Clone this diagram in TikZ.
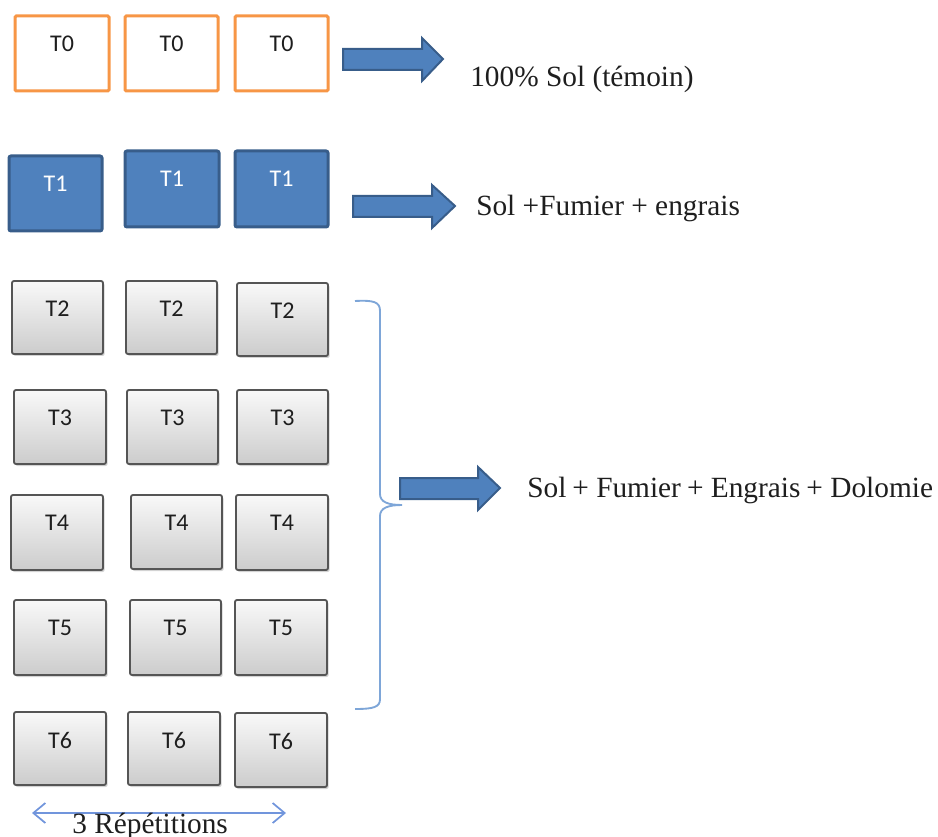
\documentclass[tikz,border=0pt]{standalone}
\usepackage{fontspec}
\setmainfont{Liberation Serif}
\newfontfamily\labfont{Carlito}
\newfontfamily\descfont{Liberation Serif}
\usetikzlibrary{arrows.meta,shadows,calc}
\definecolor{orangeB}{HTML}{F79646}
\definecolor{blueF}{HTML}{4F81BD}
\definecolor{blueD}{HTML}{385D8A}
\definecolor{grayD}{HTML}{555555}
\definecolor{braceC}{HTML}{7EA6D8}
\definecolor{txt}{HTML}{1E1E1E}
\tikzset{
  t0box/.style={draw=orangeB, line width=2.25pt, fill=white, rounded corners=1pt, inner sep=0pt},
  t1box/.style={draw=blueD, line width=2.25pt, fill=blueF, rounded corners=1.5pt, inner sep=0pt},
  gbox/.style={draw=grayD, line width=1.4pt, top color=gray!5, bottom color=gray!40, rounded corners=1.5pt, inner sep=0pt,
    drop shadow={shadow xshift=1.2pt, shadow yshift=-1.5pt, opacity=0.35}},
  lbld/.style={font=\labfont\fontsize{18}{20}\selectfont, text=txt, inner sep=0pt},
  lblw/.style={font=\labfont\fontsize{18}{20}\selectfont, text=white, inner sep=0pt},
  blockarrow/.style={fill=blueF, draw=blueD, line width=1.5pt, line join=miter},
  desc/.style={font=\descfont\fontsize{22}{24}\selectfont, text=txt, anchor=base west, inner sep=0pt},
  bracestyle/.style={draw=braceC, line width=1.4pt},
  reparrow/.style={draw=braceC!90!blue, line width=1.3pt, {Straight Barb[length=9pt,width=15pt,line width=1.3pt]}-{Straight Barb[length=9pt,width=15pt,line width=1.3pt]}}
}
\newcommand\bx[8]{%
  \node[#6, minimum width={(#4-#2)*0.75pt}, minimum height={(#5-#3)*0.75pt}] (#1) at ({(#2+#4)/2},{(#3+#5)/2}) {};
  \node[#7] (#1l) at ($(#1.north)+(0,29)$) {#8};}
\begin{document}
\begin{tikzpicture}[x=0.75pt,y=-0.75pt]
\useasboundingbox (0,0) rectangle (938,837);
% row T0
\bx{a1}{15}{16}{109}{91}{t0box}{lbld}{T0}
\bx{a2}{125}{16}{218}{91}{t0box}{lbld}{T0}
\bx{a3}{235}{16}{328}{91}{t0box}{lbld}{T0}
% row T1
\bx{b1}{9}{156}{102}{231}{t1box}{lblw}{T1}
\bx{b2}{125}{151}{219}{227}{t1box}{lblw}{T1}
\bx{b3}{235}{151}{328}{227}{t1box}{lblw}{T1}
% row T2
\bx{c1}{12}{281}{103}{354}{gbox}{lbld}{T2}
\bx{c2}{126}{281}{217}{354}{gbox}{lbld}{T2}
\bx{c3}{237}{283}{328}{356}{gbox}{lbld}{T2}
% row T3
\bx{d1}{14}{390}{106}{464}{gbox}{lbld}{T3}
\bx{d2}{127}{390}{218}{464}{gbox}{lbld}{T3}
\bx{d3}{237}{390}{328}{464}{gbox}{lbld}{T3}
% row T4
\bx{e1}{11}{495}{103}{570}{gbox}{lbld}{T4}
\bx{e2}{131}{495}{222}{569}{gbox}{lbld}{T4}
\bx{e3}{236}{495}{328}{570}{gbox}{lbld}{T4}
% row T5
\bx{f1}{14}{600}{106}{675}{gbox}{lbld}{T5}
\bx{f2}{130}{600}{221}{675}{gbox}{lbld}{T5}
\bx{f3}{235}{600}{327}{675}{gbox}{lbld}{T5}
% row T6
\bx{g1}{14}{712}{106}{785}{gbox}{lbld}{T6}
\bx{g2}{128}{712}{220}{785}{gbox}{lbld}{T6}
\bx{g3}{235}{713}{327}{787}{gbox}{lbld}{T6}
% block arrows
\draw[blockarrow] (343,49) -- (422,49) -- (422,38) -- (443,59) -- (422,81) -- (422,70) -- (343,70) -- cycle;
\draw[blockarrow] (353,196) -- (432,196) -- (432,185) -- (455,206) -- (432,228) -- (432,217) -- (353,217) -- cycle;
\draw[blockarrow] (400,478) -- (478,478) -- (478,467) -- (500,488) -- (478,510) -- (478,499) -- (400,499) -- cycle;
% descriptions
\node[desc] (t0txt) at (470,87) {100\% Sol (témoin)};
\node[desc] (t1txt) at (476,216) {Sol +Fumier + engrais};
\node[desc] (t2txt) at (527,497) {Sol\kern-1pt{} + Fumier\kern-1pt{} + Engrais\kern-1pt{} + Dolomie};
% brace
\draw[bracestyle] (355,301) .. controls (374,300) and (380,302) .. (380,311) -- (380,494)
  .. controls (380,502) and (388,505) .. (402,505)
  .. controls (388,505) and (380,508) .. (380,516) -- (380,699)
  .. controls (380,707) and (374,709) .. (355,709);
% repetitions
\coordinate (rl) at (32,813);
\coordinate (rr) at (286,813);
\draw[reparrow] (rl) -- (rr);
\node[desc] (rep) at (72,833) {3 Répétitions};
\end{tikzpicture}
\end{document}
